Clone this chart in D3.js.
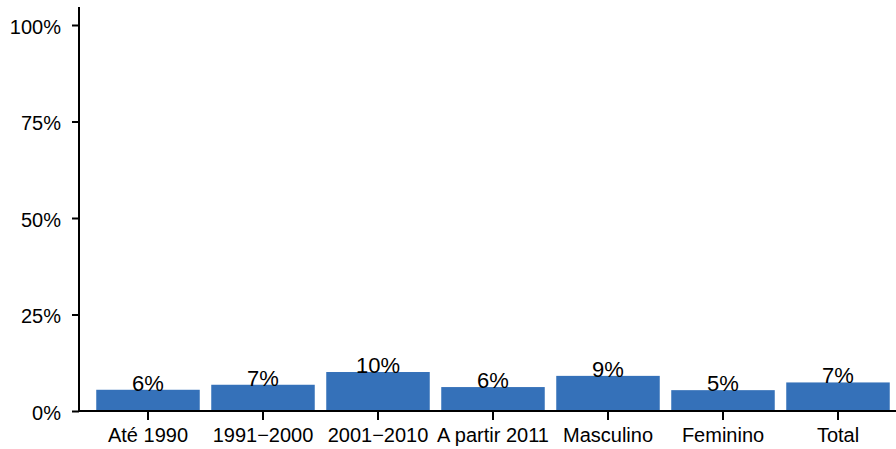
<!DOCTYPE html>
<html>
<head>
<meta charset="utf-8">
<script src="https://cdn.jsdelivr.net/npm/d3@7"></script>
<style>
  html, body { margin: 0; padding: 0; background: #fff; }
  text { font-family: "Liberation Sans", Arial, sans-serif; fill: #000; }
</style>
</head>
<body>
<svg id="chart" width="896" height="449"></svg>
<script>
const categories = ["Até 1990", "1991−2000", "2001−2010", "A partir 2011", "Masculino", "Feminino", "Total"];
const values = [0.055, 0.068, 0.101, 0.062, 0.091, 0.054, 0.074];
const yTicks = [0, 0.25, 0.5, 0.75, 1];

const svg = d3.select("#chart");
const W = 896, H = 449;
const x0 = 79, yBase = 411;

const x = d3.scaleBand().domain(categories).range([90.5, 895.5]).paddingInner(0.1).paddingOuter(0.05);
const y = d3.scaleLinear().domain([0, 1]).range([yBase, 25]);

// bars
svg.append("g").selectAll("rect").data(categories).join("rect")
  .attr("x", d => x(d))
  .attr("width", x.bandwidth())
  .attr("y", (d, i) => y(values[i]))
  .attr("height", (d, i) => y(0) - y(values[i]))
  .attr("fill", "#3571b9");

// value labels
svg.append("g").selectAll("text").data(categories).join("text")
  .attr("x", d => x(d) + x.bandwidth() / 2)
  .attr("y", (d, i) => y(values[i]) + 1)
  .attr("text-anchor", "middle")
  .style("font-size", "22px")
  .text((d, i) => Math.round(values[i] * 100) + "%");

// y axis
const yAxis = svg.append("g").attr("transform", `translate(${x0},0)`)
  .call(d3.axisLeft(y).tickValues(yTicks).tickSize(7).tickPadding(11).tickFormat(d3.format(".0%")));
yAxis.select(".domain").remove();
yAxis.selectAll(".tick line").attr("stroke", "#000").attr("stroke-width", 2);
yAxis.selectAll(".tick text").style("font-size", "20px").attr("dy", "0.4em").style("font-family", "Liberation Sans, Arial, sans-serif");
svg.append("line").attr("x1", x0).attr("x2", x0).attr("y1", 7).attr("y2", yBase + 1)
  .attr("stroke", "#000").attr("stroke-width", 2);

// x axis
const xAxis = svg.append("g").attr("transform", `translate(0,${yBase})`)
  .call(d3.axisBottom(x).tickSize(9).tickPadding(8));
xAxis.select(".domain").remove();
xAxis.selectAll(".tick line").attr("stroke", "#000").attr("stroke-width", 2);
xAxis.selectAll(".tick text").style("font-size", "20px").style("font-family", "Liberation Sans, Arial, sans-serif");
svg.append("line").attr("x1", x0 - 1).attr("x2", W).attr("y1", yBase).attr("y2", yBase)
  .attr("stroke", "#000").attr("stroke-width", 2);
</script>
</body>
</html>
